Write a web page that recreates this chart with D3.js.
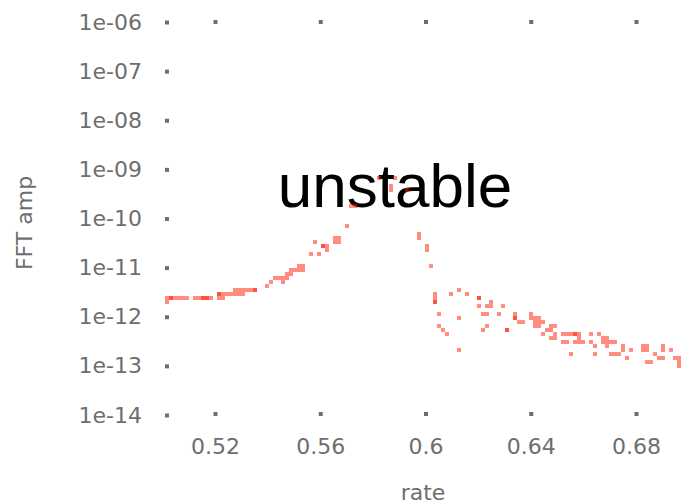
<!DOCTYPE html>
<html>
<head>
<meta charset="utf-8">
<script src="https://cdn.jsdelivr.net/npm/d3@7"></script>
<style>
  html, body { margin: 0; padding: 0; background: #fff; }
  svg { display: block; }
</style>
</head>
<body>
<script>
// Spectrum amplitude against rate
const rate = [
  0.5018, 0.5018, 0.5033, 0.5033, 0.5048, 0.5063, 0.5078, 0.5094, 0.5124, 0.5139,
  0.5154, 0.5154, 0.5170, 0.5170, 0.5185, 0.5215, 0.5215, 0.5215, 0.5230, 0.5230,
  0.5246, 0.5261, 0.5276, 0.5276, 0.5291, 0.5291, 0.5306, 0.5306, 0.5322, 0.5337,
  0.5352, 0.5352, 0.5398, 0.5413, 0.5428, 0.5443, 0.5458, 0.5458, 0.5474, 0.5474,
  0.5489, 0.5489, 0.5504, 0.5519, 0.5519, 0.5534, 0.5534, 0.5565, 0.5580, 0.5595,
  0.5610, 0.5610, 0.5626, 0.5626, 0.5656, 0.5671, 0.5656, 0.5671, 0.5702, 0.5717,
  0.5732, 0.5823, 0.5869, 0.5869, 0.5884, 0.5930, 0.5975, 0.5975, 0.6005, 0.6005,
  0.6021, 0.6036, 0.6036, 0.6036, 0.6036, 0.6051, 0.6051, 0.6066, 0.6081, 0.6097,
  0.6127, 0.6127, 0.6127, 0.6157, 0.6203, 0.6203, 0.6203, 0.6218, 0.6233, 0.6218,
  0.6249, 0.6233, 0.6249, 0.6233, 0.6279, 0.6294, 0.6309, 0.6309, 0.6340, 0.6340,
  0.6340, 0.6355, 0.6370, 0.6401, 0.6401, 0.6416, 0.6431, 0.6416, 0.6431, 0.6416,
  0.6431, 0.6446, 0.6461, 0.6446, 0.6477, 0.6492, 0.6477, 0.6492, 0.6477, 0.6492,
  0.6522, 0.6537, 0.6553, 0.6568, 0.6568, 0.6583, 0.6522, 0.6537, 0.6568, 0.6583,
  0.6598, 0.6583, 0.6553, 0.6629, 0.6629, 0.6644, 0.6659, 0.6674, 0.6689, 0.6674,
  0.6689, 0.6689, 0.6705, 0.6720, 0.6644, 0.6705, 0.6720, 0.6735, 0.6750, 0.6750,
  0.6765, 0.6781, 0.6826, 0.6841, 0.6826, 0.6841, 0.6841, 0.6857, 0.6872, 0.6887,
  0.6902, 0.6902, 0.6902, 0.6933, 0.6948, 0.6963, 0.6963, 0.6963
];
const amp = [
  2.39e-12, 1.98e-12, 2.39e-12, 2.39e-12, 2.39e-12, 2.39e-12, 2.39e-12, 2.39e-12, 2.39e-12, 2.39e-12,
  2.39e-12, 2.39e-12, 2.39e-12, 2.39e-12, 2.39e-12, 2.39e-12, 2.88e-12, 2.88e-12, 2.39e-12, 2.88e-12,
  2.88e-12, 2.88e-12, 2.88e-12, 3.48e-12, 2.88e-12, 3.48e-12, 2.88e-12, 3.48e-12, 3.48e-12, 3.48e-12,
  3.48e-12, 3.48e-12, 4.20e-12, 5.07e-12, 6.11e-12, 6.11e-12, 6.11e-12, 5.07e-12, 6.11e-12, 7.38e-12,
  7.38e-12, 8.90e-12, 8.90e-12, 1.07e-11, 8.90e-12, 1.07e-11, 8.90e-12, 1.88e-11, 3.31e-11, 1.88e-11,
  2.74e-11, 2.74e-11, 2.74e-11, 2.27e-11, 3.99e-11, 3.99e-11, 3.31e-11, 3.31e-11, 7.00e-11, 1.79e-10,
  1.79e-10, 6.65e-10, 4.57e-10, 3.79e-10, 6.65e-10, 3.79e-10, 4.81e-11, 3.99e-11, 2.74e-11, 2.27e-11,
  1.07e-11, 2.88e-12, 2.39e-12, 1.98e-12, 1.98e-12, 1.13e-12, 6.44e-13, 5.34e-13, 4.42e-13, 2.88e-12,
  3.48e-12, 9.36e-13, 2.09e-13, 2.88e-12, 2.39e-12, 2.39e-12, 1.64e-12, 1.13e-12, 1.13e-12, 5.34e-13,
  1.98e-12, 1.64e-12, 1.64e-12, 6.44e-13, 1.13e-12, 1.64e-12, 5.34e-13, 5.34e-13, 1.13e-12, 9.36e-13,
  9.36e-13, 7.76e-13, 7.76e-13, 1.13e-12, 9.36e-13, 9.36e-13, 9.36e-13, 7.76e-13, 7.76e-13, 6.44e-13,
  6.44e-13, 7.76e-13, 5.34e-13, 4.42e-13, 6.44e-13, 6.44e-13, 5.34e-13, 4.42e-13, 3.67e-13, 3.67e-13,
  4.42e-13, 4.42e-13, 4.42e-13, 4.42e-13, 4.42e-13, 4.42e-13, 3.04e-13, 3.04e-13, 3.04e-13, 3.04e-13,
  3.04e-13, 3.67e-13, 1.73e-13, 4.42e-13, 3.04e-13, 2.52e-13, 4.42e-13, 3.67e-13, 3.67e-13, 3.04e-13,
  3.04e-13, 2.52e-13, 3.04e-13, 3.04e-13, 1.73e-13, 1.73e-13, 1.73e-13, 1.73e-13, 2.52e-13, 2.09e-13,
  1.44e-13, 2.09e-13, 2.52e-13, 2.52e-13, 2.09e-13, 2.09e-13, 1.19e-13, 1.19e-13, 1.73e-13, 1.44e-13,
  2.52e-13, 2.09e-13, 1.44e-13, 2.09e-13, 1.44e-13, 1.44e-13, 1.19e-13, 9.86e-14
];

const xTicks = [0.52, 0.56, 0.6, 0.64, 0.68];
const xTickLabels = ["0.52", "0.56", "0.6", "0.64", "0.68"];
const yTicks = [1e-6, 1e-7, 1e-8, 1e-9, 1e-10, 1e-11, 1e-12, 1e-13, 1e-14];
const yTickLabels = ["1e-06", "1e-07", "1e-08", "1e-09", "1e-10", "1e-11", "1e-12", "1e-13", "1e-14"];

const titleText = "unstable";
const xTitle = "rate";
const yTitle = "FFT amp";

const W = 681, H = 504;
const axisColor = "#6e6e6e";
const labelFont = "DejaVu Sans, sans-serif";

const x = d3.scaleLinear().domain([0.52, 0.68]).range([215, 636]);
const y = d3.scaleLog().domain([1e-6, 1e-14]).range([22, 415]);

const svg = d3.select("body").append("svg")
  .attr("width", W).attr("height", H);

// left axis: decade ticks with exponent labels
const gy = svg.append("g")
  .attr("transform", "translate(169,0)")
  .call(d3.axisLeft(y).tickValues(yTicks).tickSize(4).tickPadding(23)
    .tickFormat((d, i) => yTickLabels[i]));
gy.select(".domain").remove();
gy.selectAll(".tick line").attr("stroke", axisColor).attr("stroke-width", 4);
gy.selectAll(".tick text")
  .attr("fill", axisColor).attr("font-family", labelFont).attr("font-size", 22);

// bottom axis
const gx = svg.append("g")
  .attr("transform", "translate(0,412)")
  .call(d3.axisBottom(x).tickValues(xTicks).tickSize(4).tickPadding(22)
    .tickFormat((d, i) => xTickLabels[i]));
gx.select(".domain").remove();
gx.selectAll(".tick line").attr("stroke", axisColor).attr("stroke-width", 4);
gx.selectAll(".tick text")
  .attr("fill", axisColor).attr("font-family", labelFont).attr("font-size", 22);

// top axis (ticks only)
const gt = svg.append("g")
  .attr("transform", "translate(0,24)")
  .call(d3.axisTop(x).tickValues(xTicks).tickSize(4).tickFormat(""));
gt.select(".domain").remove();
gt.selectAll(".tick line").attr("stroke", axisColor).attr("stroke-width", 4);

// axis titles
svg.append("text")
  .attr("x", 423).attr("y", 500)
  .attr("text-anchor", "middle")
  .attr("fill", axisColor).attr("font-family", labelFont).attr("font-size", 22)
  .text(xTitle);

svg.append("text")
  .attr("transform", "translate(32,223) rotate(-90)")
  .attr("text-anchor", "middle")
  .attr("fill", axisColor).attr("font-family", labelFont).attr("font-size", 22)
  .text(yTitle);

// plot title inside the panel
svg.append("text")
  .attr("x", 395).attr("y", 207)
  .attr("text-anchor", "middle")
  .attr("fill", "#000")
  .attr("font-family", "Liberation Sans, Arial, sans-serif")
  .attr("font-size", 62)
  .text(titleText);

// points
const pts = rate.map((r, i) => ({ r, a: amp[i] }));
svg.append("g")
  .selectAll("rect")
  .data(pts)
  .join("rect")
  .attr("x", d => x(d.r) - 2)
  .attr("y", d => y(d.a) - 2)
  .attr("width", 4)
  .attr("height", 4)
  .attr("fill", "#ff1a00")
  .attr("fill-opacity", 0.5)
  .attr("shape-rendering", "crispEdges");
</script>
</body>
</html>
